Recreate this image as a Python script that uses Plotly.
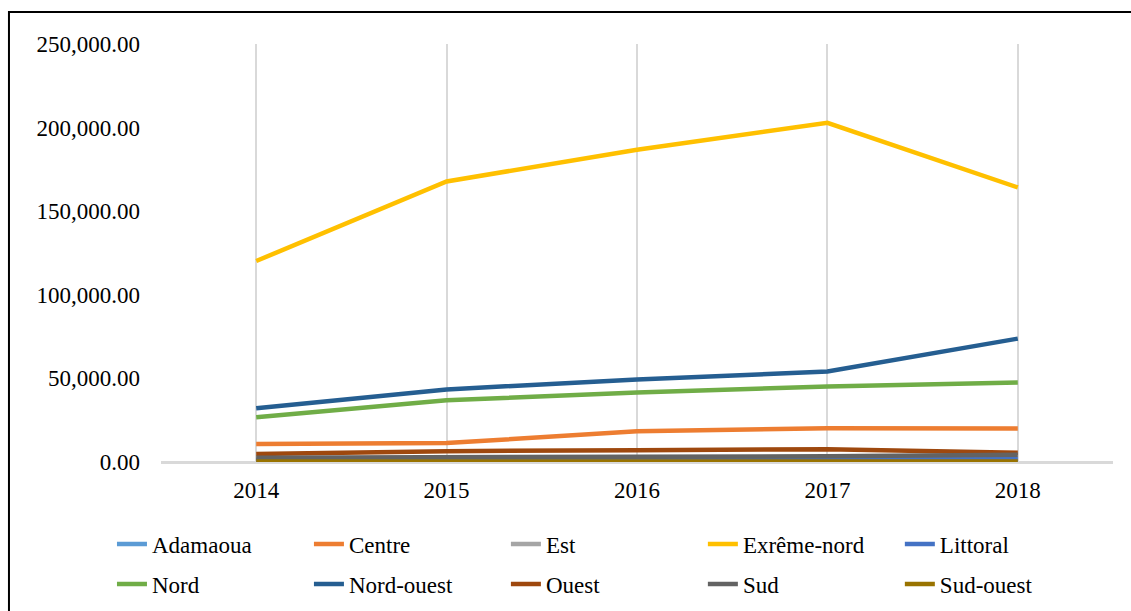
import plotly.graph_objects as go

years = ["2014", "2015", "2016", "2017", "2018"]
regions = ["Adamaoua", "Centre", "Est", "Exrême-nord", "Littoral",
           "Nord", "Nord-ouest", "Ouest", "Sud", "Sud-ouest"]
adamaoua = [900, 1000, 1100, 1200, 1300]
centre = [10700, 11300, 18400, 20200, 20000]
est = [1500, 1600, 1700, 1800, 1900]
extreme_nord = [120200, 167800, 186800, 202900, 164200]
littoral = [1200, 1300, 1400, 1500, 1600]
nord = [26800, 36900, 41600, 45200, 47600]
nord_ouest = [32100, 43400, 49400, 54100, 73800]
ouest = [4800, 6500, 7100, 7700, 5500]
sud = [2600, 2800, 3000, 3400, 4400]
sud_ouest = [300, 300, 300, 300, 300]

series = [adamaoua, centre, est, extreme_nord, littoral,
          nord, nord_ouest, ouest, sud, sud_ouest]
colors = ["#5B9BD5", "#ED7D31", "#A5A5A5", "#FFC000", "#4472C4",
          "#70AD47", "#255E91", "#9E480E", "#636363", "#997300"]

font_family = "Liberation Serif, Times New Roman, serif"

fig = go.Figure()
legend_layout = {}
for i, (name, vals, col) in enumerate(zip(regions, series, colors)):
    key = "legend" if i == 0 else f"legend{i + 1}"
    fig.add_trace(go.Scatter(
        x=years, y=vals, name=name, mode="lines",
        line=dict(color=col, width=4.5),
        legend=key,
    ))
    row, colidx = divmod(i, 5)
    legend_layout[key] = dict(
        orientation="h",
        x=-0.0515 + colidx * 0.2069,
        y=-0.196 if row == 0 else -0.292,
        xanchor="left", yanchor="middle",
        font=dict(size=23, family=font_family, color="black"),
        bgcolor="rgba(0,0,0,0)", borderwidth=0, itemclick=False,
    )

fig.update_layout(
    width=1131, height=611,
    margin=dict(l=161, r=18, t=44, b=149, autoexpand=False),
    plot_bgcolor="white", paper_bgcolor="white",
    font=dict(family=font_family, size=23, color="black"),
    showlegend=True,
    xaxis=dict(
        type="category", range=[-0.5, 4.5],
        showgrid=True, gridcolor="#D9D9D9", gridwidth=2,
        showline=False, zeroline=False, ticks="",
        ticklabelstandoff=12,
        tickfont=dict(size=23, family=font_family, color="black"),
    ),
    yaxis=dict(
        range=[0, 250000], dtick=50000, tickformat=",.2f",
        showgrid=False, zeroline=True, zerolinecolor="#D9D9D9", zerolinewidth=3,
        showline=False, ticks="",
        ticklabelstandoff=20,
        tickfont=dict(size=23, family=font_family, color="black"),
    ),
    **legend_layout,
)

fig.add_shape(type="rect", xref="paper", yref="paper",
              x0=-0.1597, x1=1.05, y0=-0.6, y1=1.0766,
              line=dict(color="black", width=2), fillcolor="rgba(0,0,0,0)",
              layer="below")

fig.write_html("out.html")
